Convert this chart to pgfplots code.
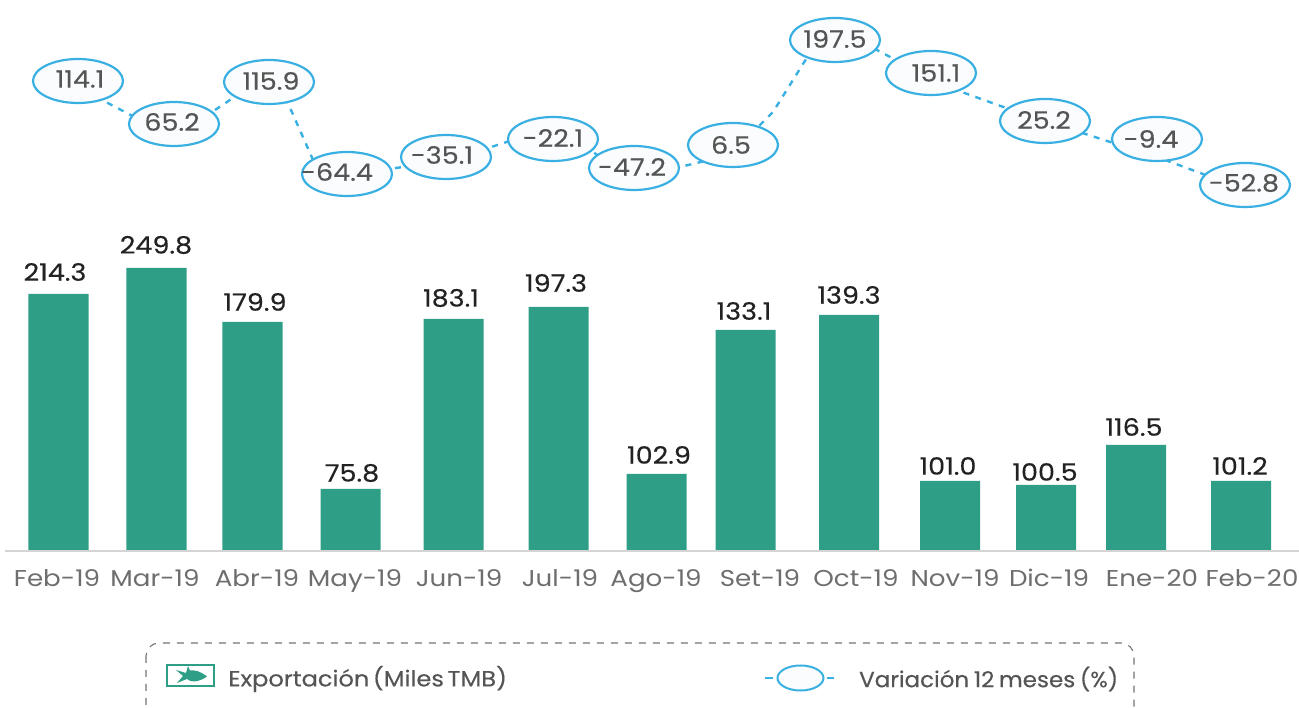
\documentclass[border=0pt]{standalone}
\usepackage{fontspec}
\setmainfont{Poppins}
\newfontfamily\lblf[FakeStretch=1.13,FakeBold=0.3]{Poppins}
\newfontfamily\tickf[FakeStretch=1.14]{Poppins}
\newfontfamily\legaf[FakeStretch=1.1,FakeBold=0.3,WordSpace=0.55]{Poppins}
\newfontfamily\legbf[FakeStretch=1.05,FakeBold=0.3,WordSpace=0.75]{Poppins}
\usepackage{pgfplots}
\usepackage{pgfplotstable}
\pgfplotsset{compat=1.18}
\usetikzlibrary{shapes.geometric}
\definecolor{barg}{HTML}{2F9E86}
\definecolor{ovb}{HTML}{3AB0E2}
\definecolor{ovf}{HTML}{FBFCFE}
\definecolor{txt}{HTML}{555555}
\definecolor{lab}{HTML}{222222}
% bar heights as drawn, and printed value labels
\pgfplotstableread{
x h
58.5 256
156.5 282
252.5 228
350.5 61
453.5 231
558.5 243
656.5 76
745.5 220
849 235
950 69
1046 65
1136 105
1241 69
}\bars
\pgfplotstableread{
x y v
55 278 214.3
156 305 249.8
255 248 179.9
352 77 75.8
451 252 183.1
556 267 197.3
659 95 102.9
744 239 133.1
849 255 139.3
948 84 101.0
1045 78 100.5
1134 123 116.5
1240 84 101.2
}\barlabels
\pgfplotstableread{
x y
78 469
174 426
269 468
347 376
446 393
553 411
634 382
733 405
835 510
931 477
1045 429
1157 411
1245 365
}\ovals
% dashed connector as read from the visible dashes
\pgfplotstableread{
x y
85 459
173.6 412.3
273.7 479.3
321 372
448 389
553 423
634 372
730 395
773 438
803 486
828 526
944 464.4
1020 437
1157 393
1230 366
}\connector
\pgfplotstableread{
x y v
80 471 114.1
172 428 65.2
271 469 115.9
337 378 -64.4
442 395 -35.1
553 412 -22.1
632 383 -47.2
731 405 6.5
835 511 197.5
936 477 151.1
1044 430 25.2
1151 411 -9.4
1244 367 -52.8
}\ovallabels
\begin{document}
\begin{tikzpicture}
\begin{axis}[
  scale only axis, width=1299bp, height=708bp,
  xmin=0, xmax=1299, ymin=-158, ymax=550,
  axis line style={draw=none}, major tick length=0pt,
  ytick=\empty,
  xtick={57,155,257,355,459,560,656,760,856,955,1049,1152,1252},
  xticklabels={Feb-19,Mar-19,Abr-19,May-19,Jun-19,Jul-19,Ago-19,Set-19,Oct-19,Nov-19,Dic-19,Ene-20,Feb-20},
  xticklabel style={font=\tickf\fontsize{23}{25}\selectfont, text=txt!85, anchor=center, yshift=130bp, text height=17bp, text depth=0pt},
  clip=true,
]
\draw[draw=black!17, line width=1.2bp] (axis cs:5,-1) -- (axis cs:1299,-1);
\addplot[ybar, bar width=60bp, bar shift=0pt, fill=barg, draw=none] table[x=x,y=h]{\bars};
\addplot[ovb, line width=2.4bp, dash pattern=on 6bp off 6.5bp, line join=round] table[x=x,y=y]{\connector};
\addplot[draw=none, nodes near coords={\phantom{0}}, nodes near coords style={ellipse, draw=ovb, fill=ovf, minimum width=90bp, minimum height=44bp, inner sep=0pt, line width=2.2bp, anchor=center}] table[x=x,y=y]{\ovals};
\addplot[draw=none, point meta=explicit symbolic, nodes near coords, nodes near coords style={text=txt, font=\lblf\fontsize{24}{26}\selectfont, anchor=center, inner sep=0pt}] table[x=x,y=y,meta=v]{\ovallabels};
\addplot[draw=none, point meta=explicit symbolic, nodes near coords, nodes near coords style={text=lab, font=\lblf\fontsize{24}{26}\selectfont, anchor=center, inner sep=0pt}] table[x=x,y=y,meta=v]{\barlabels};
% legend
\draw[draw=black!55, line width=1.1bp, dash pattern=on 7bp off 7bp, rounded corners=13bp] (axis cs:146,-93) rectangle (axis cs:1134,-175);
\draw[draw=barg, line width=1.8bp, fill=white] (axis cs:167,-115) rectangle (axis cs:214,-136);
\fill[barg] (axis cs:176,-120) -- (axis cs:183,-126) -- (axis cs:177,-133) -- (axis cs:187,-129) .. controls (axis cs:190,-132) and (axis cs:198,-133) .. (axis cs:207,-126.5) .. controls (axis cs:200,-121) and (axis cs:195,-120) .. (axis cs:190,-120.5) -- (axis cs:188,-116) -- (axis cs:186,-123) -- cycle;
\node[anchor=west, text=txt, font=\legaf\fontsize{22}{24}\selectfont, inner sep=0pt] at (axis cs:228,-129) {Exportación (Miles TMB)};
\draw[draw=ovb, line width=2.4bp] (axis cs:765,-128) -- (axis cs:773,-128);
\draw[draw=ovb, line width=2.4bp] (axis cs:827,-128) -- (axis cs:834,-128);
\draw[draw=ovb, fill=ovf, line width=2bp] (axis cs:800.5,-128) ellipse [x radius=23, y radius=12.5];
\node[anchor=west, text=txt, font=\legbf\fontsize{22}{24}\selectfont, inner sep=0pt] at (axis cs:859,-129) {Variación 12 meses (\%)};
\end{axis}
\pgfresetboundingbox
\useasboundingbox (0,0) rectangle (1299bp,708bp);
\end{tikzpicture}
\end{document}
